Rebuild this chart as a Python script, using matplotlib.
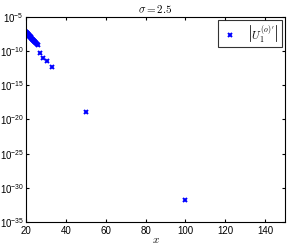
import numpy as np
import matplotlib.pyplot as plt

plt.rcParams['font.family'] = ['Liberation Sans', 'DejaVu Sans']
plt.rcParams['mathtext.fontset'] = 'cm'

# sample positions and log10 of |U_1^(o)'|
x = [20.0, 20.25, 20.5, 20.75, 21.0, 21.25, 21.5, 21.75, 22.0, 22.25,
     22.5, 22.75, 23.0, 23.25, 23.5, 23.75, 24.0, 24.25, 24.5, 24.75,
     25.0, 25.5, 26.0, 27.0, 28.7, 30.4, 33.1, 50.0, 100.0]
log_u = [-7.15, -7.23, -7.31, -7.40, -7.48, -7.56, -7.65, -7.73, -7.81, -7.90,
         -7.98, -8.06, -8.15, -8.23, -8.31, -8.40, -8.48, -8.56, -8.65, -8.73,
         -8.81, -8.98, -9.15, -10.3, -10.96, -11.5, -12.3, -18.9, -31.8]
u = 10.0 ** np.array(log_u)

fig = plt.figure(figsize=(2.91, 2.44), dpi=100)
ax = fig.add_axes([26 / 291, 22 / 244, 259 / 291, 205 / 244])
ax.semilogy(x, u, 'x', color='blue', ms=3.0, mew=1.4,
            label=r"$\left|U_1^{(o)'}\right|$")
ax.set_xlim(20, 150)
ax.set_ylim(1e-35, 1e-5)
ax.set_xticks([20, 40, 60, 80, 100, 120, 140])
ax.set_yticks([1e-35, 1e-30, 1e-25, 1e-20, 1e-15, 1e-10, 1e-5])
ax.minorticks_off()
ax.tick_params(direction='in', top=True, right=True, labelsize=7, length=2.5, pad=1.5)
ax.tick_params(axis='x', pad=3)
ax.set_title(r'$\sigma = 2.5$', fontsize=8, pad=3)
ax.set_xlabel(r'$x$', fontsize=8, labelpad=-1)
leg = ax.legend(loc='upper right', fontsize=8, fancybox=False, edgecolor='black',
                handlelength=1.6, borderaxespad=0.3, borderpad=0.25,
                handletextpad=0.8)
leg.get_frame().set_linewidth(0.8)

fig.savefig('out.png', dpi=100)
